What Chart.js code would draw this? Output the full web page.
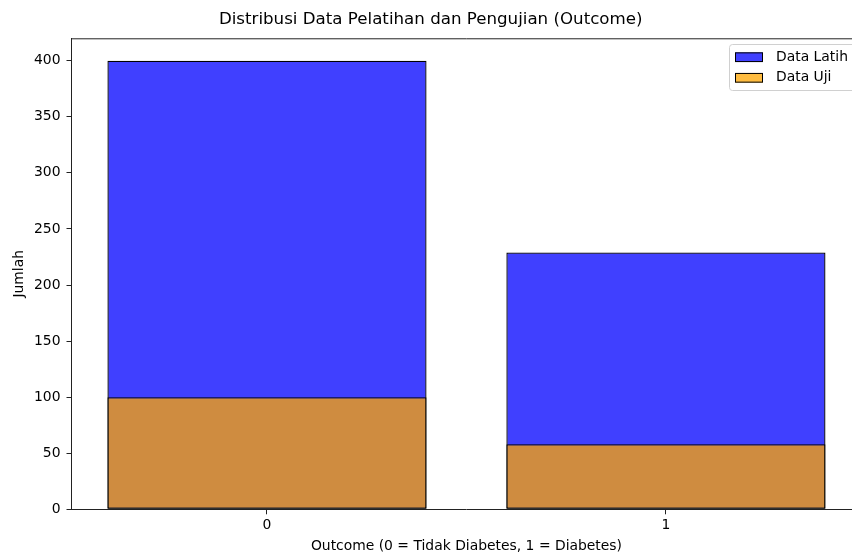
<!DOCTYPE html>
<html>
<head>
<meta charset="utf-8">
<script src="https://cdn.jsdelivr.net/npm/chart.js@4/dist/chart.umd.min.js"></script>
<style>
  html, body { margin: 0; padding: 0; background: #fff; overflow: hidden; width: 852px; height: 553px; }
  #wrap { position: absolute; left: 0; top: 0; width: 880px; height: 553px; }
</style>
</head>
<body>
<div id="wrap"><canvas id="c" width="880" height="553"></canvas></div>
<script>
// ---- data ----
const categories = ['0', '1'];
const categoryPositions = [0, 1];
const dataLatih = [400, 229];
const dataUji = [100, 58];
const seriesLabels = ['Data Latih', 'Data Uji'];
const yTickValues = [0, 50, 100, 150, 200, 250, 300, 350, 400];
const chartTitle = 'Distribusi Data Pelatihan dan Pengujian (Outcome)';
const xTitle = 'Outcome (0 = Tidak Diabetes, 1 = Diabetes)';
const yTitle = 'Jumlah';

const FONT = "'DejaVu Sans', sans-serif";
const AX = '#222222';

const toPoints = arr => categoryPositions.map((x, i) => ({ x: x, y: arr[i] }));

const framePlugin = {
  id: 'framePlugin',
  afterDraw(chart) {
    const { ctx, chartArea: a } = chart;
    ctx.save();
    ctx.strokeStyle = AX;
    ctx.lineWidth = 1;
    ctx.beginPath();
    ctx.moveTo(a.left, a.top + 0.5);
    ctx.lineTo(a.right, a.top + 0.5);
    ctx.moveTo(a.right - 0.5, a.top);
    ctx.lineTo(a.right - 0.5, a.bottom);
    ctx.stroke();

    // legend (matplotlib style, upper right inside axes)
    const ds = chart.data.datasets;
    const fs = 13.9;
    const x0 = 729.5, y0 = 44.5, w = 126, h = 46;
    const r = 3;
    ctx.beginPath();
    ctx.moveTo(x0 + r, y0);
    ctx.lineTo(x0 + w - r, y0);
    ctx.quadraticCurveTo(x0 + w, y0, x0 + w, y0 + r);
    ctx.lineTo(x0 + w, y0 + h - r);
    ctx.quadraticCurveTo(x0 + w, y0 + h, x0 + w - r, y0 + h);
    ctx.lineTo(x0 + r, y0 + h);
    ctx.quadraticCurveTo(x0, y0 + h, x0, y0 + h - r);
    ctx.lineTo(x0, y0 + r);
    ctx.quadraticCurveTo(x0, y0, x0 + r, y0);
    ctx.closePath();
    ctx.fillStyle = 'rgba(255,255,255,0.8)';
    ctx.fill();
    ctx.strokeStyle = '#d0d0d0';
    ctx.lineWidth = 1;
    ctx.stroke();

    ctx.font = fs + 'px ' + FONT;
    ctx.textBaseline = 'middle';
    ctx.textAlign = 'left';
    ds.forEach((d, i) => {
      const cy = 57.2 + i * 20.6;
      ctx.fillStyle = d.backgroundColor;
      ctx.fillRect(735, cy - 4.85, 28, 9.7);
      ctx.strokeStyle = '#000';
      ctx.lineWidth = 1;
      ctx.strokeRect(735.5, cy - 4.85 + 0.5, 27, 8.7);
      ctx.fillStyle = '#000';
      ctx.fillText(d.label, 776, cy);
    });
    ctx.restore();
  }
};

new Chart(document.getElementById('c'), {
  type: 'bar',
  data: {
    datasets: [
      {
        label: seriesLabels[0],
        data: toPoints(dataLatih),
        backgroundColor: 'rgba(0,0,255,0.75)',
        borderColor: '#000000',
        borderWidth: 1.3,
        borderSkipped: false,
        order: 1
      },
      {
        label: seriesLabels[1],
        data: toPoints(dataUji),
        backgroundColor: 'rgba(255,165,0,0.75)',
        borderColor: '#000000',
        borderWidth: 1.3,
        borderSkipped: false,
        order: 0
      }
    ]
  },
  options: {
    responsive: false,
    animation: false,
    devicePixelRatio: 1,
    grouped: false,
    categoryPercentage: 1.0,
    barPercentage: 0.8,
    layout: { padding: { left: 0, right: 18.6, top: 0, bottom: 0 } },
    plugins: {
      legend: { display: false },
      tooltip: { enabled: false },
      title: {
        display: true,
        text: chartTitle,
        color: '#000',
        font: { family: FONT, size: 16.67, weight: 'normal', lineHeight: 1.2 },
        padding: { top: 10, bottom: 8.3 }
      }
    },
    scales: {
      x: {
        type: 'linear',
        min: -0.49,
        max: 1.49,
        offset: false,
        afterFit(scale) { scale.height = 43.7; },
        afterBuildTicks(scale) { scale.ticks = categoryPositions.map(v => ({ value: v })); },
        ticks: {
          color: '#000',
          font: { family: FONT, size: 13.9 },
          padding: 3,
          maxRotation: 0,
          autoSkip: false,
          callback: (v) => { const i = categoryPositions.indexOf(v); return i >= 0 ? categories[i] : ''; }
        },
        grid: { display: true, drawOnChartArea: false, drawTicks: true, tickLength: 5, color: AX, offset: false },
        border: { display: true, color: AX, width: 1 },
        title: {
          display: true,
          text: xTitle,
          color: '#000',
          font: { family: FONT, size: 13.9, lineHeight: 1.0 },
          padding: { top: 0, bottom: 0 }
        }
      },
      y: {
        min: 0,
        max: 420,
        afterFit(scale) { scale.width = 71.5; },
        afterBuildTicks(scale) { scale.ticks = yTickValues.map(v => ({ value: v })); },
        ticks: {
          color: '#000',
          font: { family: FONT, size: 13.9 },
          padding: 6
        },
        grid: { display: true, drawOnChartArea: false, drawTicks: true, tickLength: 5, color: AX },
        border: { display: true, color: AX, width: 1 },
        title: {
          display: true,
          text: yTitle,
          color: '#000',
          font: { family: FONT, size: 13.9, lineHeight: 1.0 },
          padding: { top: 12, bottom: 0 }
        }
      }
    }
  },
  plugins: [framePlugin]
});
</script>
</body>
</html>
